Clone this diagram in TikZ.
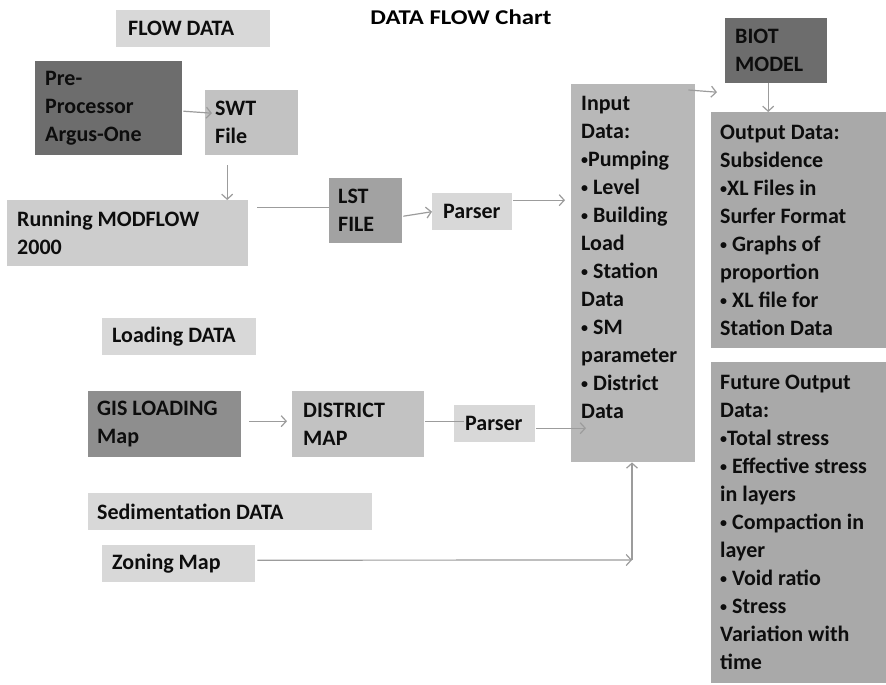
\documentclass[tikz,border=0pt]{standalone}
\usepackage{fontspec}
\setmainfont{Carlito}
\newfontfamily\titlefont[FakeStretch=1.18]{Carlito}
\usetikzlibrary{arrows.meta}

\definecolor{gLight}{HTML}{D8D8D8}
\definecolor{gPale}{HTML}{CDCDCD}
\definecolor{gMid}{HTML}{C2C2C2}
\definecolor{gIn}{HTML}{B8B8B8}
\definecolor{gOut}{HTML}{A9A9A9}
\definecolor{gLst}{HTML}{A2A2A2}
\definecolor{gGis}{HTML}{8E8E8E}
\definecolor{gDark}{HTML}{6D6D6D}
\definecolor{gLine}{HTML}{9C9C9C}

% small bullet
\newcommand{\bul}{\raisebox{2pt}{\fontsize{14}{14}\selectfont•}}

\tikzset{
  blk/.style={fill=#1, draw=none, anchor=north west, inner sep=0pt},
  txt/.style={anchor=west, align=left, inner sep=0pt, text=black!95,
    font=\fontsize{22}{28}\selectfont\bfseries},
  arr/.style={->, draw=gLine, line width=1.2pt},
  lnk/.style={draw=gLine, line width=1.2pt},
  >={Straight Barb[length=5pt,width=11pt]}
}

\begin{document}
\begin{tikzpicture}[x=1pt, y=-1pt]
\useasboundingbox[fill=white] (0,0) rectangle (886,685);

% title
\node[font=\titlefont\fontsize{21}{24}\selectfont\bfseries] (title) at (461,17) {DATA FLOW Chart};

% flow data
\node[blk=gLight, minimum width=154, minimum height=37] (flowhdr) at (116,10) {};
\node[txt] (flowhdrtxt) at ([xshift=12]flowhdr.west) {FLOW DATA};
\node[blk=gDark, minimum width=147, minimum height=94] (pre) at (35,61) {};
\node[txt] (pretxt) at ([xshift=10]pre.west) {Pre-\\Processor\\Argus-One};
\node[blk=gMid, minimum width=93, minimum height=65] (swt) at (205,90) {};
\node[txt] (swttxt) at ([xshift=10]swt.west) {SWT\\File};
\node[blk=gPale, minimum width=241, minimum height=66] (run) at (7,200) {};
\node[txt] (runtxt) at ([xshift=10]run.west) {Running MODFLOW\\2000};
\node[blk=gLst, minimum width=73, minimum height=65] (lst) at (329,178) {};
\node[txt] (lsttxt) at ([xshift=9]lst.west) {LST\\FILE};
\node[blk=gLight, minimum width=80, minimum height=37] (pA) at (432,193) {};
\node[txt] (pAtxt) at ([xshift=11]pA.west) {Parser};

% model part
\node[blk=gIn, minimum width=124, minimum height=378] (input) at (571,84) {};
\node[txt, anchor=north west] (inputtxt) at ([xshift=10,yshift=-12]input.north west)
  {Input\\Data:\\\bul Pumping\\\bul\ Level\\\bul\ Building\\Load\\\bul\ Station\\Data\\\bul\ SM\\parameter\\\bul\ District\\Data};
\node[blk=gDark, minimum width=102, minimum height=65] (biot) at (725,18) {};
\node[txt] (biottxt) at ([xshift=10]biot.west) {BIOT\\MODEL};
\node[blk=gOut, minimum width=175, minimum height=236] (output) at (711,112) {};
\node[txt] (outputtxt) at ([xshift=9]output.west)
  {Output Data:\\Subsidence\\\bul XL Files in\\Surfer Format\\\bul\ Graphs of\\proportion\\\bul\ XL file for\\Station Data};
\node[blk=gOut, minimum width=175, minimum height=321] (future) at (711,362) {};
\node[txt] (futuretxt) at ([xshift=9]future.west)
  {Future Output\\Data:\\\bul Total stress\\\bul\ Effective stress\\in layers\\\bul\ Compaction in\\layer\\\bul\ Void ratio\\\bul\ Stress\\Variation with\\time};

% loading data
\node[blk=gLight, minimum width=154, minimum height=37] (loadhdr) at (102,318) {};
\node[txt] (loadhdrtxt) at ([xshift=10]loadhdr.west) {Loading DATA};
\node[blk=gGis, minimum width=153, minimum height=66] (gis) at (88,391) {};
\node[txt] (gistxt) at ([xshift=9]gis.west) {GIS LOADING\\Map};
\node[blk=gMid, minimum width=132, minimum height=66] (district) at (292,391) {};
\node[txt] (districttxt) at ([xshift=11]district.west) {DISTRICT\\MAP};
\node[blk=gLight, minimum width=81, minimum height=37] (pB) at (454,405) {};
\node[txt] (pBtxt) at ([xshift=11]pB.west) {Parser};

% sedimentation data
\node[blk=gLight, minimum width=284, minimum height=37] (sedhdr) at (88,493) {};
\node[txt] (sedhdrtxt) at ([xshift=9]sedhdr.west) {Sedimentation DATA};
\node[blk=gLight, minimum width=153, minimum height=37] (zoning) at (102,545) {};
\node[txt] (zoningtxt) at ([xshift=10]zoning.west) {Zoning Map};
\coordinate (bend) at (632,560);

% connectors
\draw[arr] ([xshift=1,yshift=-3]pre.east) -- ([xshift=7,yshift=9.5]swt.west);
\draw[arr] ([xshift=-24.5,yshift=-10]swt.south) -- ([xshift=99.5]run.north);
\draw[lnk] ([xshift=9,yshift=26]run.east) -- ([yshift=3.5]lst.west);
\draw[arr] ([xshift=1,yshift=-5.5]lst.east) -- (pA.west);
\draw[arr] ([xshift=1,yshift=11.5]pA.east) -- ([xshift=-6,yshift=73]input.west);
\draw[arr] ([xshift=-7,yshift=-6]input.north east) -- ([xshift=-8,yshift=-41.5]biot.west);
\draw[arr] ([xshift=-8]biot.south) -- ([xshift=-30.5]output.north);
\draw[arr] ([xshift=8,yshift=3]gis.east) -- ([xshift=-5,yshift=3]district.west);
\draw[lnk] ([xshift=1,yshift=3]district.east) -- ([xshift=10,yshift=2.5]pB.west);
\draw[arr] ([xshift=1,yshift=-4.5]pB.east) -- ([xshift=15,yshift=-155]input.west);
\draw[arr] ([xshift=2,yshift=3.5]zoning.east) -- (bend);
\draw[arr] (bend) -- (bend |- input.south);
\end{tikzpicture}
\end{document}
